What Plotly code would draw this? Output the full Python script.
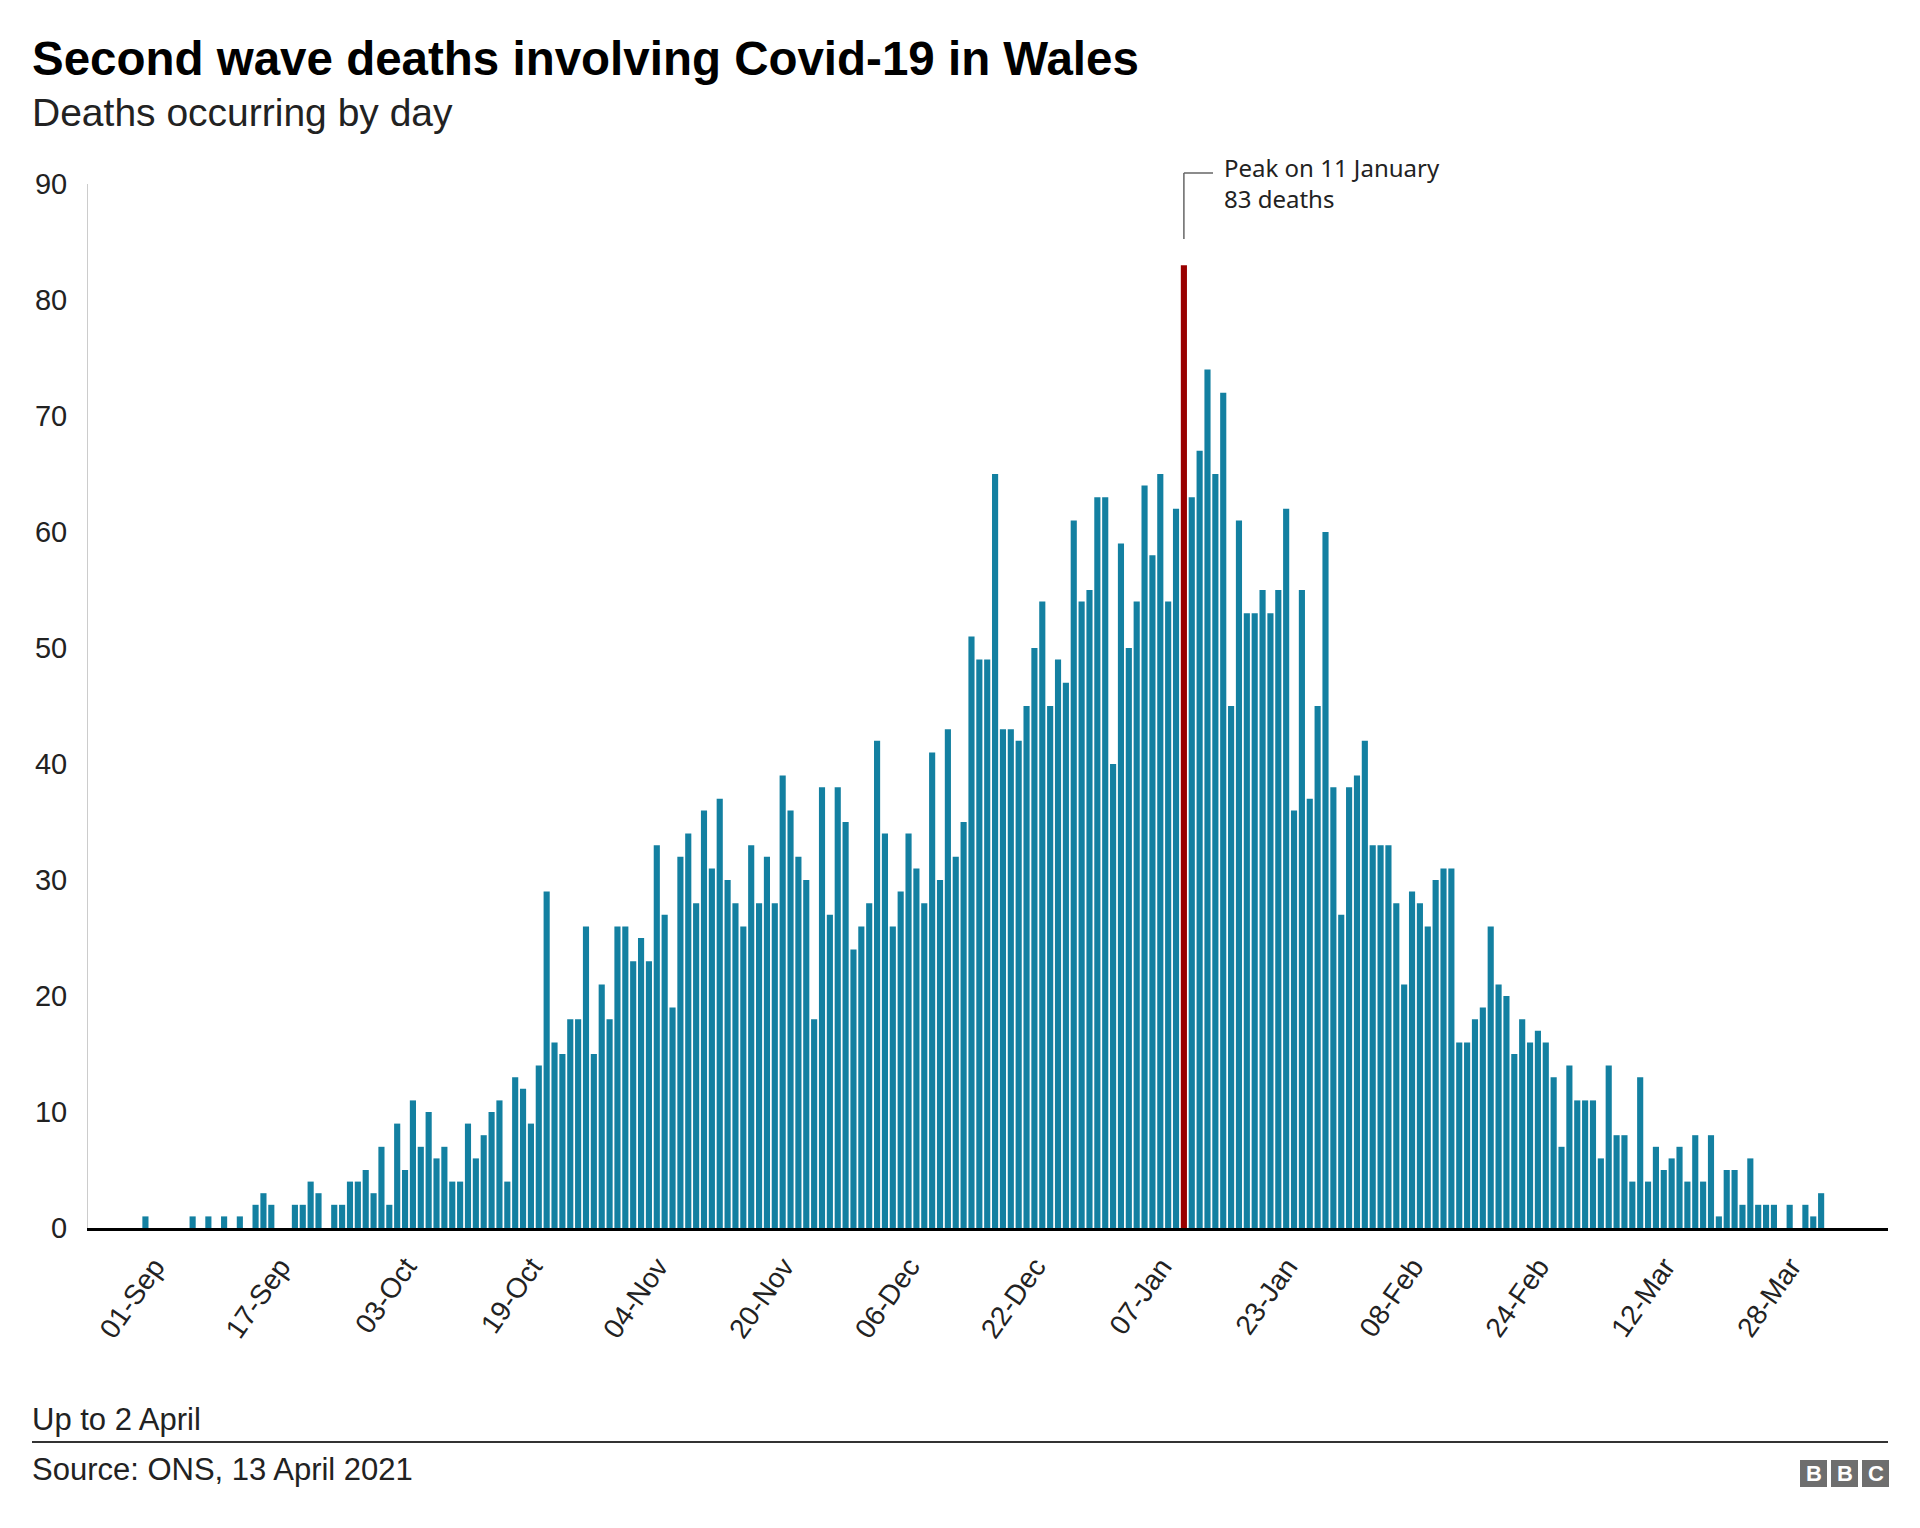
import pandas as pd
import plotly.graph_objects as go

# ---- data (deaths occurring by day, 1 Sep 2020 - 2 Apr 2021) ----
start_date = "2020-09-01"
deaths_sep = [1, 0, 0, 0, 0, 0, 1, 0, 1, 0, 1, 0, 1, 0, 2, 3, 2, 0, 0, 2,
              2, 4, 3, 0, 2, 2, 4, 4, 5, 3]
deaths_oct = [7, 2, 9, 5, 11, 7, 10, 6, 7, 4, 4, 9, 6, 8, 10, 11, 4, 13, 12, 9,
              14, 29, 16, 15, 18, 18, 26, 15, 21, 18, 26]
deaths_nov = [26, 23, 25, 23, 33, 27, 19, 32, 34, 28, 36, 31, 37, 30, 28, 26, 33, 28, 32, 28,
              39, 36, 32, 30, 18, 38, 27, 38, 35, 24]
deaths_dec = [26, 28, 42, 34, 26, 29, 34, 31, 28, 41, 30, 43, 32, 35, 51, 49, 49, 65, 43, 43,
              42, 45, 50, 54, 45, 49, 47, 61, 54, 55, 63]
deaths_jan = [63, 40, 59, 50, 54, 64, 58, 65, 54, 62, 83, 63, 67, 74, 65, 72, 45, 61, 53, 53,
              55, 53, 55, 62, 36, 55, 37, 45, 60, 38, 27]
deaths_feb = [38, 39, 42, 33, 33, 33, 28, 21, 29, 28, 26, 30, 31, 31, 16, 16, 18, 19, 26, 21,
              20, 15, 18, 16, 17, 16, 13, 7]
deaths_mar = [14, 11, 11, 11, 6, 14, 8, 8, 4, 13, 4, 7, 5, 6, 7, 4, 8, 4, 8, 1,
              5, 5, 2, 6, 2, 2, 2, 0, 2, 0, 2]
deaths_apr = [1, 3]

deaths = deaths_sep + deaths_oct + deaths_nov + deaths_dec + deaths_jan + deaths_feb + deaths_mar + deaths_apr
dates = pd.date_range(start_date, periods=len(deaths), freq="D")

peak_date = pd.Timestamp("2021-01-11")
peak_value = 83
y_ticks = [0, 10, 20, 30, 40, 50, 60, 70, 80, 90]

TEAL = "#1380A1"
RED = "#990000"

colors = [RED if d == peak_date else TEAL for d in dates]

fig = go.Figure()
fig.add_trace(go.Bar(x=dates, y=deaths, marker=dict(color=colors, line=dict(width=0)),
                     hoverinfo="x+y"))

# geometry: plot area 88..1888 px horizontally, 184..1228 px vertically
W, H = 1920, 1528
L, R, T, B = 88, 32, 184, 300
pw, ph = W - L - R, H - T - B


def px(X):
    return (X - L) / pw


def py(Y):
    return (H - B - Y) / ph


fig.update_layout(
    width=W, height=H,
    margin=dict(l=L, r=R, t=T, b=B, pad=0),
    paper_bgcolor="white", plot_bgcolor="white",
    font=dict(family="Liberation Sans, Arial, sans-serif", color="#222222", size=28),
    bargap=0.22,
    showlegend=False,
    xaxis=dict(
        type="date",
        range=[dates[0] - pd.Timedelta(hours=7.3 * 24), dates[-1] + pd.Timedelta(hours=8.5 * 24)],
        tick0=start_date, dtick=16 * 86400000, tickformat="%d-%b",
        tickangle=-55, tickfont=dict(size=28, color="#222222"),
        showgrid=False, zeroline=False,
        showline=True, linecolor="black", linewidth=3,
        ticks="", ticklabelstandoff=8, ticklabelshift=9,
    ),
    yaxis=dict(
        range=[0, 90], tickvals=y_ticks,
        tickfont=dict(size=29, color="#222222"),
        showgrid=False, zeroline=False,
        showline=True, linecolor="#cccccc", linewidth=1,
        ticks="", ticklabelstandoff=14,
    ),
)

# leader line for peak annotation
fig.add_shape(type="line", xref="x", yref="paper",
              x0=peak_date, x1=peak_date, y0=py(239), y1=py(173),
              line=dict(color="#666666", width=1.5))
fig.add_shape(type="line", xref="x", yref="paper",
              x0=peak_date, x1=peak_date + pd.Timedelta(hours=3.7 * 24), y0=py(173), y1=py(173),
              line=dict(color="#666666", width=1.5))
fig.add_annotation(xref="x", yref="paper", x=peak_date + pd.Timedelta(hours=4.9 * 24), y=py(183.5),
                   xanchor="left", yanchor="middle", align="left", showarrow=False,
                   text=f"Peak on 11 January<br>{peak_value} deaths",
                   font=dict(family="Noto Sans, Open Sans, sans-serif", size=24, color="#222222"))

# titles
fig.add_annotation(xref="paper", yref="paper", x=px(30), y=py(59), xanchor="left", yanchor="middle",
                   showarrow=False, text="<b>Second wave deaths involving Covid-19 in Wales</b>",
                   font=dict(size=47.5, color="#000000"))
fig.add_annotation(xref="paper", yref="paper", x=px(30), y=py(113), xanchor="left", yanchor="middle",
                   showarrow=False, text="Deaths occurring by day",
                   font=dict(size=39, color="#222222"))

# footer
fig.add_annotation(xref="paper", yref="paper", x=px(30), y=py(1419), xanchor="left", yanchor="middle",
                   showarrow=False, text="Up to 2 April", font=dict(size=31, color="#222222"))
fig.add_shape(type="line", xref="paper", yref="paper", x0=px(32), x1=px(1888), y0=py(1442), y1=py(1442),
              line=dict(color="#333333", width=2))
fig.add_annotation(xref="paper", yref="paper", x=px(30), y=py(1469), xanchor="left", yanchor="middle",
                   showarrow=False, text="Source: ONS, 13 April 2021", font=dict(size=31, color="#222222"))

# BBC logo
for i, letter in enumerate(["B", "B", "C"]):
    cx = 1813.5 + i * 31
    fig.add_shape(type="rect", xref="paper", yref="paper",
                  x0=px(cx - 13.5), x1=px(cx + 13.5), y0=py(1487), y1=py(1460),
                  fillcolor="#6e6e6e", line=dict(width=0))
    fig.add_annotation(xref="paper", yref="paper", x=px(cx), y=py(1473.5), xanchor="center", yanchor="middle",
                       showarrow=False, text=f"<b>{letter}</b>",
                       font=dict(size=22, color="white", family="Liberation Sans, Arial, sans-serif"))

fig.write_html("out.html", config={"displayModeBar": False},
               post_script="document.body.style.margin='0';")
